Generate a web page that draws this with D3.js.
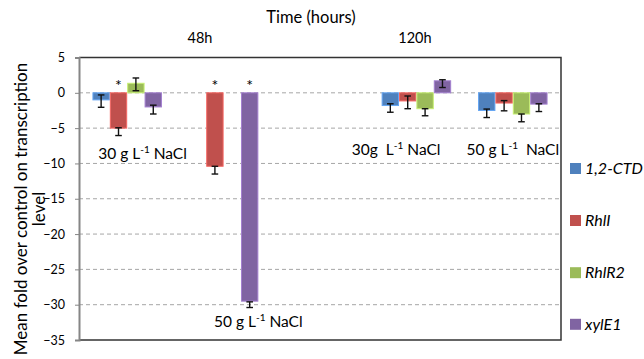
<!DOCTYPE html>
<html>
<head>
<meta charset="utf-8">
<script src="https://cdn.jsdelivr.net/npm/d3@7/dist/d3.min.js"></script>
<style>
  html, body { margin: 0; padding: 0; background: #fff; }
  svg { display: block; font-family: Lato, "Open Sans", sans-serif; }
  text { white-space: pre; }
</style>
</head>
<body>
<script>
// Treatment groups, drawn in four of five equal slots (slot 2 is left empty as a spacer)
const groups = ["48h 30 g", "48h 50 g", "120h 30 g", "120h 50 g"];
const groupSlots = [0, 1, 3, 4];
const slotCount = 5;

const seriesNames = ["1,2-CTD", "RhlI", "RhlR2", "xylE1"];
const seriesColors = ["#4F81BD", "#C0504D", "#9BBB59", "#8064A2"];

// Mean fold change per gene (null = not measured)
const ctdValues   = [-1.0, null, -1.8, -2.5];
const rhlIValues  = [-5.0, -10.4, -1.15, -1.45];
const rhlR2Values = [1.35, null, -2.25, -3.0];
const xylE1Values = [-2.0, -29.5, 1.7, -1.6];

// Error bar ends [low, high]
const ctdErr   = [[-2.05, -0.3], null, [-2.75, -1.55], [-3.5, -2.3]];
const rhlIErr  = [[-6.05, -4.95], [-11.5, -10.4], [-2.25, -0.45], [-2.55, -1.1]];
const rhlR2Err = [[0.3, 2.1], null, [-3.25, -2.25], [-4.1, -3.0]];
const xylE1Err = [[-3.0, -1.75], [-30.4, -29.6], [0.75, 1.85], [-2.65, -1.55]];

// Significance markers
const ctdSig   = [false, false, false, false];
const rhlISig  = [true, true, false, false];
const rhlR2Sig = [false, false, false, false];
const xylE1Sig = [false, true, false, false];

const yTicks = [5, 0, -5, -10, -15, -20, -25, -30, -35];

const seriesValues = [ctdValues, rhlIValues, rhlR2Values, xylE1Values];
const seriesErr = [ctdErr, rhlIErr, rhlR2Err, xylE1Err];
const seriesSig = [ctdSig, rhlISig, rhlR2Sig, xylE1Sig];

const W = 644, H = 359;
const plot = { left: 79, right: 561, top: 57.5, bottom: 340 };

const svg = d3.select("body").append("svg")
  .attr("width", W).attr("height", H);

const y = d3.scaleLinear().domain([-35, 5]).range([plot.bottom, plot.top]);
const x0 = d3.scaleBand().domain(d3.range(slotCount)).range([plot.left, plot.right]).padding(0);
const x1 = d3.scaleBand().domain(d3.range(seriesNames.length)).range([0, x0.bandwidth()])
  .paddingInner(0).paddingOuter(0.773);
// continuous slot coordinate for free annotations
const xs = d3.scaleLinear().domain([0, slotCount]).range([plot.left, plot.right]);

// dashed gridlines
svg.append("g").selectAll("line")
  .data(yTicks.filter(t => t < 5 && t > -35))
  .join("line")
  .attr("x1", plot.left).attr("x2", plot.right)
  .attr("y1", d => y(d)).attr("y2", d => y(d))
  .attr("stroke", "#a6a6a6").attr("stroke-width", 1)
  .attr("stroke-dasharray", "4,3");

// plot frame (top, right, bottom)
svg.append("path")
  .attr("d", `M${plot.left},${plot.top}H${plot.right}V${plot.bottom}H${plot.left}`)
  .attr("fill", "none").attr("stroke", "#333").attr("stroke-width", 1.5);

// y axis
const yAxis = svg.append("g")
  .attr("transform", `translate(${plot.left},0)`)
  .call(d3.axisLeft(y).tickValues(yTicks).tickSize(4).tickPadding(10).tickFormat(d3.format("d")));
yAxis.select(".domain").attr("stroke", "#868686").attr("stroke-width", 2);
yAxis.selectAll(".tick line").attr("stroke", "#868686").attr("stroke-width", 1);
yAxis.selectAll(".tick text")
  .attr("fill", "#000").style("font-size", "12.5px").style("font-family", "Lato, sans-serif");

// bars
seriesValues.forEach((vals, si) => {
  const g = svg.append("g");
  vals.forEach((v, gi) => {
    if (v === null) return;
    const bx = x0(groupSlots[gi]) + x1(si);
    g.append("rect")
      .attr("x", bx + 0.5)
      .attr("y", y(Math.max(0, v)))
      .attr("width", x1.bandwidth() - 1)
      .attr("height", Math.abs(y(v) - y(0)))
      .attr("fill", seriesColors[si])
      .attr("stroke", d3.color(seriesColors[si]).brighter(0.7))
      .attr("stroke-width", 1);
  });
});

// error bars
seriesErr.forEach((errs, si) => {
  errs.forEach((e, gi) => {
    if (!e) return;
    const cx = x0(groupSlots[gi]) + x1(si) + x1.bandwidth() / 2;
    const g = svg.append("g").attr("stroke", "#111").attr("stroke-width", 1.4);
    g.append("line").attr("x1", cx).attr("x2", cx).attr("y1", y(e[0])).attr("y2", y(e[1]));
    [e[0], e[1]].forEach(t => {
      g.append("line").attr("x1", cx - 3.3).attr("x2", cx + 3.3).attr("y1", y(t)).attr("y2", y(t));
    });
  });
});

// significance asterisks
seriesSig.forEach((sig, si) => {
  sig.forEach((s, gi) => {
    if (!s) return;
    const cx = x0(groupSlots[gi]) + x1(si) + x1.bandwidth() / 2;
    const top = Math.max(0, seriesValues[si][gi]);
    svg.append("text")
      .attr("x", cx).attr("y", y(top) - 2)
      .attr("text-anchor", "middle")
      .style("font-size", "16px").attr("fill", "#000")
      .text("*");
  });
});

// salinity annotations with superscript unit
function saltLabel(xSlot, yVal, pre, post) {
  const t = svg.append("text")
    .attr("x", xs(xSlot)).attr("y", y(yVal))
    .attr("text-anchor", "middle")
    .style("font-size", "15.5px").attr("fill", "#000");
  t.append("tspan").text(pre + "L");
  t.append("tspan").attr("dy", -6).style("font-size", "10px").text("-1");
  t.append("tspan").attr("dy", 6).text(post + "NaCl");
}
saltLabel(0.659, -9.4, "30 g ", " ");
saltLabel(1.86, -33.1, "50 g ", " ");
saltLabel(3.29, -8.8, "30g  ", " ");
saltLabel(4.5, -8.8, "50 g ", "  ");

// time headers
svg.append("text").attr("x", 311).attr("y", 23.3).attr("text-anchor", "middle")
  .style("font-size", "16.5px").text("Time (hours)");
svg.append("text").attr("x", xs(1.255)).attr("y", 43.3).attr("text-anchor", "middle")
  .style("font-size", "14.5px").text("48h");
svg.append("text").attr("x", xs(3.485)).attr("y", 43.3).attr("text-anchor", "middle")
  .style("font-size", "14.5px").text("120h");

// y axis title (two lines)
const yTitle = ["Mean fold over control on transcription", "level"];
yTitle.forEach((line, i) => {
  svg.append("text")
    .attr("transform", `translate(${27 + i * 18},209) rotate(-90)`)
    .attr("text-anchor", "middle")
    .style("font-size", "17px").text(line);
});

// legend
const legendY = [168.5, 220.5, 272.7, 324.3];
const legend = svg.append("g");
seriesNames.forEach((name, i) => {
  legend.append("rect")
    .attr("x", 570).attr("y", legendY[i] - 5.5)
    .attr("width", 11).attr("height", 11)
    .attr("fill", seriesColors[i]);
  legend.append("text")
    .attr("x", 585).attr("y", legendY[i] + 5.5)
    .style("font-size", "16px").style("font-style", "italic")
    .text(name);
});
</script>
</body>
</html>
